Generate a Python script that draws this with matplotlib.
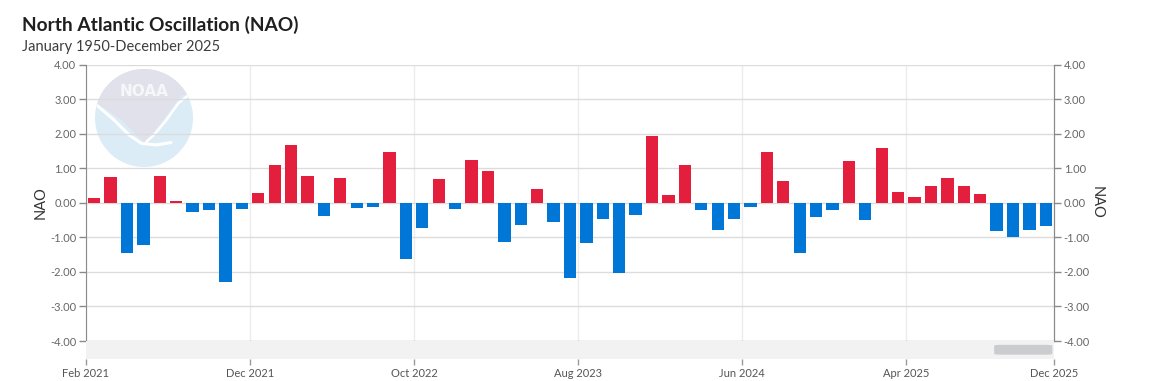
import matplotlib
matplotlib.use("Agg")
import matplotlib.pyplot as plt
import numpy as np
import pandas as pd
from matplotlib.patches import Circle, Polygon, FancyBboxPatch

plt.rcParams['font.family'] = ['Lato', 'DejaVu Sans']
plt.rcParams['axes.unicode_minus'] = False

# ---------------- data ----------------
months = pd.date_range("2021-02-01", periods=59, freq="MS")
nao_values = [
    0.13, 0.74, -1.45, -1.23, 0.77, 0.04, -0.28, -0.22, -2.29, -0.19,
    0.27, 1.09, 1.67, 0.77, -0.37, 0.71, -0.14, -0.11, 1.47, -1.62,
    -0.72, 0.68, -0.17, 1.23, 0.91, -1.13, -0.63, 0.39, -0.57, -2.17,
    -1.16, -0.46, -2.03, -0.34, 1.93, 0.21, 1.09, -0.22, -0.78, -0.46,
    -0.11, 1.47, 0.62, -1.45, -0.40, -0.22, 1.20, -0.51, 1.58, 0.30,
    0.18, 0.48, 0.71, 0.48, 0.24, -0.81, -0.98, -0.78, -0.66,
]
tick_labels = ["Feb 2021", "Dec 2021", "Oct 2022", "Aug 2023", "Jun 2024", "Apr 2025", "Dec 2025"]
y_ticks = [-4, -3, -2, -1, 0, 1, 2, 3, 4]

title = "North Atlantic Oscillation (NAO)"
subtitle = "January 1950-December 2025"

POS_COLOR = "#e41f3d"
NEG_COLOR = "#0077d6"

# ---------------- figure ----------------
W, H = 1151, 381
fig = plt.figure(figsize=(W / 100, H / 100), dpi=100, facecolor="white")

def px_rect(x0, y0, x1, y1):
    return [x0 / W, 1 - y1 / H, (x1 - x0) / W, (y1 - y0) / H]

L, R, T, B = 86, 1054, 64.5, 341

# NOAA-like watermark logo (behind plot)
lax = fig.add_axes(px_rect(95, 69, 193, 167), zorder=0)
lax.set_xlim(-1, 1); lax.set_ylim(-1, 1); lax.axis("off")
circ = Circle((0, 0), 1, facecolor="#dbecf7", edgecolor="none")
lax.add_patch(circ)
upper = Polygon([(-1.1, 1.1), (1.1, 1.1), (1.1, 0.55), (0.75, 0.45), (0.45, 0.05),
                 (0.15, -0.35), (0.0, -0.5), (-0.15, -0.35), (-0.45, -0.05),
                 (-0.8, 0.2), (-1.1, 0.3)], closed=True, facecolor="#e0e1ea", edgecolor="none")
lax.add_patch(upper)
upper.set_clip_path(circ)
wing = lax.plot([-0.95, -0.6, -0.3, -0.05, 0.25, 0.55],
                [0.25, -0.05, -0.35, -0.52, -0.55, -0.5], color="white", lw=2.2,
                solid_capstyle="round")[0]
wing.set_clip_path(circ)
wing2 = lax.plot([0.95, 0.7, 0.45, 0.2, 0.05], [0.5, 0.3, -0.05, -0.35, -0.48],
                 color="white", lw=1.8, solid_capstyle="round")[0]
wing2.set_clip_path(circ)
lax.text(0, 0.55, "NOAA", color="#f7f7fa", fontsize=11, fontweight="bold",
         ha="center", va="center", family=["DejaVu Sans"])

# main axes
ax = fig.add_axes(px_rect(L, T, R, B), zorder=1)
ax.set_facecolor("none")
x = np.arange(len(nao_values)) + 0.5
colors = [POS_COLOR if v >= 0 else NEG_COLOR for v in nao_values]
ax.bar(x, nao_values, width=0.75, color=colors, zorder=3)

month_labels = [m.strftime("%b %Y") for m in months]
tick_pos = [month_labels.index(t) if i < len(tick_labels) - 1 else len(months)
            for i, t in enumerate(tick_labels)]

ax.set_xlim(0, len(months))
ax.set_ylim(-4, 4)
ax.set_yticks(y_ticks)
ax.set_yticklabels([f"{v:.2f}" for v in y_ticks])
ax.set_xticks(tick_pos[:-1])
ax.tick_params(axis="x", length=0, labelbottom=False)
ax.grid(axis="y", color="#dcdcdc", lw=1, zorder=0)
ax.grid(axis="x", color="#ececec", lw=1, zorder=0)
ax.set_axisbelow(True)
ax.spines["top"].set_visible(False)
ax.spines["left"].set_color("#8a8a8a")
ax.spines["right"].set_color("#8a8a8a")
ax.spines["bottom"].set_color("#7a7a7a")
ax.tick_params(axis="y", length=5, width=1, color="#8a8a8a", labelcolor="#666666",
               labelsize=8, pad=2)
ax.set_ylabel("NAO", fontsize=10.5, color="#333333", labelpad=2)

ax2 = ax.twinx()
ax2.set_ylim(-4, 4)
ax2.set_yticks(y_ticks)
ax2.set_yticklabels([f"{v:.2f}" for v in y_ticks])
ax2.tick_params(axis="y", length=5, width=1, color="#8a8a8a", labelcolor="#666666",
                labelsize=8, pad=2)
for s in ["top", "left", "bottom"]:
    ax2.spines[s].set_visible(False)
ax2.spines["right"].set_color("#8a8a8a")
ax2.set_ylabel("NAO", fontsize=10.5, color="#333333", rotation=270, labelpad=10)

# navigator / scrollbar band with the x axis labels
bax = fig.add_axes(px_rect(L, B, R, 358.5), zorder=1)
bax.set_facecolor("#f2f2f2")
bax.set_xlim(0, len(months))
bax.set_ylim(0, 1)
for s in bax.spines.values():
    s.set_visible(False)
bax.set_yticks([])
bax.set_xticks(tick_pos)
bax.set_xticklabels(tick_labels)
bax.tick_params(axis="x", direction="out", length=4, width=1, color="#999999",
                labelcolor="#555555", labelsize=8, pad=2.5)
thumb = FancyBboxPatch((55.35, 0.22), 3.55, 0.56, boxstyle="round,pad=0,rounding_size=0.35",
                       facecolor="#cbcccf", edgecolor="none", mutation_aspect=0.14)
bax.add_patch(thumb)

fig.text(22 / W, 1 - 25 / H, title, fontsize=13.8, fontweight="bold", color="#1f1f1f",
         ha="left", va="center")
fig.text(22 / W, 1 - 46.5 / H, subtitle, fontsize=10.5, color="#3d3d3d",
         ha="left", va="center")

fig.savefig("out.png", dpi=100, facecolor="white")
